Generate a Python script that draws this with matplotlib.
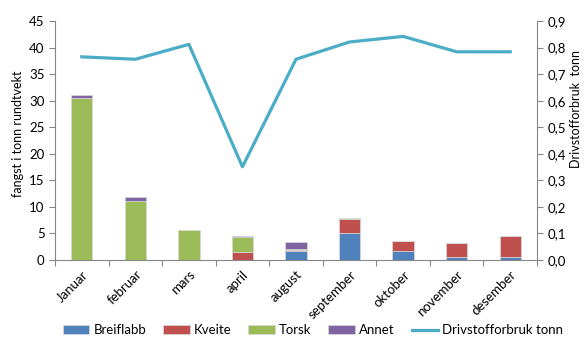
import numpy as np
import matplotlib.pyplot as plt
from matplotlib.ticker import MultipleLocator, FuncFormatter

plt.rcParams['font.family'] = ['Lato', 'DejaVu Sans']

# ------ data ------
months = ['Januar', 'februar', 'mars', 'april', 'august', 'september',
          'oktober', 'november', 'desember']
breiflabb = [0.0, 0.0, 0.0, 0.0, 1.7, 5.0, 1.75, 0.5, 0.5]
kveite = [0.0, 0.0, 0.0, 1.45, 0.1, 2.7, 1.75, 2.65, 4.1]
torsk = [30.5, 11.2, 5.6, 2.95, 0.2, 0.2, 0.0, 0.0, 0.0]
annet = [0.6, 0.7, 0.0, 0.2, 1.4, 0.0, 0.0, 0.0, 0.0]
drivstoff = [0.765, 0.756, 0.812, 0.351, 0.756, 0.821, 0.842, 0.784, 0.784]

series = [('Breiflabb', breiflabb, '#4F81BD'),
          ('Kveite', kveite, '#C0504D'),
          ('Torsk', torsk, '#9BBB59'),
          ('Annet', annet, '#8064A2')]
line_color = '#4BACC6'
axis_color = '#868686'

fig = plt.figure(figsize=(5.85, 3.49), dpi=100)
ax = fig.add_axes([55 / 585, 1 - 260 / 349, 482 / 585, 239 / 349])
ax2 = ax.twinx()

# stacked catch bars
x = np.arange(len(months))
bottom = np.zeros(len(months))
for name, vals, col in series:
    ax.bar(x, vals, 0.4, bottom=bottom, color=col, edgecolor='#D9D9D9',
           linewidth=0.5, label=name, zorder=2)
    bottom += np.array(vals)

# fuel use on the secondary axis
ax2.plot(x, drivstoff, color=line_color, lw=2.3, label='Drivstofforbruk tonn')

ax.set_xlim(-0.5, len(months) - 0.5)
ax.set_ylim(0, 45)
ax2.set_ylim(0, 0.9)
ax.yaxis.set_major_locator(MultipleLocator(5))
ax2.yaxis.set_major_locator(MultipleLocator(0.1))
ax2.yaxis.set_major_formatter(FuncFormatter(lambda v, p: f'{v:.1f}'.replace('.', ',')))

# ticks between categories, labels under the bars
ax.set_xticks(np.arange(len(months) + 1) - 0.5, minor=False)
ax.set_xticklabels([])
ax.set_xticks(x, minor=True)
ax.set_xticklabels(months, minor=True, rotation=45, ha='right',
                   rotation_mode='anchor', fontsize=9.5)
ax.tick_params(axis='x', which='minor', length=0, pad=6)
ax.tick_params(axis='x', which='major', length=4, color=axis_color)

for a in (ax, ax2):
    a.tick_params(axis='y', length=4, color=axis_color, labelsize=9.5)
    for s in a.spines.values():
        s.set_visible(False)
ax.spines['left'].set_visible(True)
ax.spines['bottom'].set_visible(True)
ax2.spines['right'].set_visible(True)
for s in (ax.spines['left'], ax.spines['bottom'], ax2.spines['right']):
    s.set_color(axis_color)
    s.set_linewidth(0.8)

ax.set_ylabel('fangst i tonn rundtvekt', fontsize=9)
ax2.set_ylabel('Drivstofforbruk  tonn', fontsize=9)
ax.yaxis.set_label_coords(-0.065, 0.53)
ax2.yaxis.set_label_coords(1.068, 0.63)

h1, l1 = ax.get_legend_handles_labels()
h2, l2 = ax2.get_legend_handles_labels()
fig.legend(h1 + h2, l1 + l2, loc='center', bbox_to_anchor=(0.535, 1 - 330 / 349),
           ncol=5, frameon=False, fontsize=9.5, handlelength=2.0,
           handleheight=0.6, columnspacing=1.3, handletextpad=0.3)

fig.savefig('out.png', dpi=100)
